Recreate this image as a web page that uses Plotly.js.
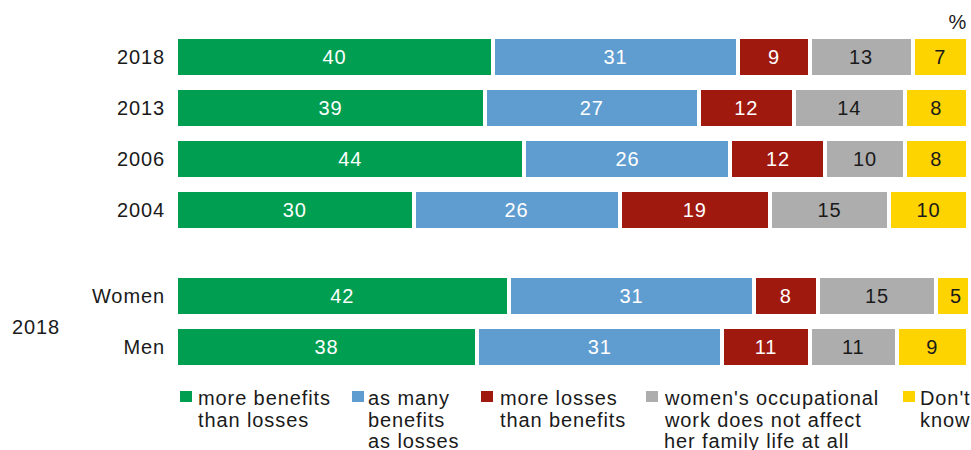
<!DOCTYPE html>
<html>
<head>
<meta charset="utf-8">
<script src="https://cdn.plot.ly/plotly-3.0.1.min.js"></script>
<style>
  html, body { margin: 0; padding: 0; background: #fff; }
  #chart { width: 971px; height: 450px; }
  #chart text { letter-spacing: 0.9px; }
</style>
</head>
<body>
<div id="chart"></div>
<script>
// ---- data ----
const yearRows = ['2018', '2013', '2006', '2004'];
const genderRows = ['Women', 'Men'];
const genderGroupLabel = '2018';

const seriesNames = [
  'more benefits<br>than losses',
  'as many<br>benefits<br>as losses',
  'more losses<br>than benefits',
  "women's occupational<br>work does not affect<br>her family life at all",
  "Don't<br>know"
];
// rows order: 2018, 2013, 2006, 2004, Women, Men
const moreBenefits = [40, 39, 44, 30, 42, 38];
const asMany       = [31, 27, 26, 26, 31, 31];
const moreLosses   = [9, 12, 12, 19, 8, 11];
const noEffect     = [13, 14, 10, 15, 15, 11];
const dontKnow     = [7, 8, 8, 10, 5, 9];

// ---- layout constants ----
const colors = ['#009E50', '#5F9DD0', '#A0190F', '#ADADAE', '#FDD300'];
const textColors = ['#ffffff', '#ffffff', '#ffffff', '#1a1a1a', '#1a1a1a'];
const FONT = '"Liberation Sans", Arial, Helvetica, sans-serif';
const FS = 20;
const ML = 176, MR = 3, MT = 26, MB = 76, W = 971, H = 450;
const PW = W - ML - MR, PH = H - MT - MB;
const groupGap = 1.68;

const rowLabels = yearRows.concat(genderRows);
const rowPos = yearRows.map((_, i) => i)
  .concat(genderRows.map((_, i) => yearRows.length - 1 + groupGap + i));

const seriesValues = [moreBenefits, asMany, moreLosses, noEffect, dontKnow];

const traces = seriesValues.map((vals, k) => ({
  type: 'bar',
  orientation: 'h',
  y: rowPos,
  x: vals,
  name: seriesNames[k],
  width: 0.78,
  marker: { color: colors[k], line: { color: '#ffffff', width: 4 } },
  text: vals.map(String),
  textposition: 'inside',
  insidetextanchor: 'middle',
  textangle: 0,
  constraintext: 'none',
  textfont: { family: FONT, size: FS, color: textColors[k] },
  hoverinfo: 'skip',
  showlegend: false
}));

const px2x = px => (px - ML) / PW;
const px2y = py => (MT + PH - py) / PH;

// manual legend
const legSquareX = [180, 352, 481, 646, 903];
const legTextX = [197, 367, 499, 663, 919];
const shapes = [];
const annotations = [];
seriesNames.forEach((name, k) => {
  shapes.push({
    type: 'rect', xref: 'paper', yref: 'paper',
    x0: px2x(legSquareX[k]), x1: px2x(legSquareX[k] + 12),
    y0: px2y(402), y1: px2y(391),
    fillcolor: colors[k], line: { width: 0 }
  });
  name.split('<br>').forEach((line, j) => {
    annotations.push({
      xref: 'paper', yref: 'paper',
      x: px2x(legTextX[k]), y: px2y(398 + j * 21.5),
      xanchor: 'left', yanchor: 'middle', align: 'left',
      text: line, showarrow: false, borderpad: 0,
      font: { family: FONT, size: FS, color: '#1a1a1a' }
    });
  });
});

annotations.push({
  xref: 'paper', yref: 'paper', x: px2x(958), y: px2y(22),
  xanchor: 'center', yanchor: 'middle', text: '%', showarrow: false,
  font: { family: FONT, size: FS, color: '#1a1a1a' }
});
annotations.push({
  xref: 'paper', yref: 'paper', x: px2x(10), y: px2y(327),
  xanchor: 'left', yanchor: 'middle', align: 'left', text: genderGroupLabel, showarrow: false,
  font: { family: FONT, size: FS, color: '#1a1a1a' }
});

const layout = {
  width: W, height: H,
  margin: { l: ML, r: MR, t: MT, b: MB, pad: 0 },
  barmode: 'stack',
  paper_bgcolor: '#ffffff',
  plot_bgcolor: '#ffffff',
  showlegend: false,
  xaxis: {
    range: [0, 100], showgrid: false, zeroline: false, showline: false,
    showticklabels: false, ticks: '', fixedrange: true
  },
  yaxis: {
    range: [6.2, -0.6], tickvals: rowPos, ticktext: rowLabels,
    showgrid: false, zeroline: false, showline: false, ticks: '',
    ticklabelstandoff: 10,
    tickfont: { family: FONT, size: FS, color: '#1a1a1a' }, fixedrange: true
  },
  shapes: shapes,
  annotations: annotations
};

Plotly.newPlot('chart', traces, layout, { staticPlot: true, displayModeBar: false });
</script>
</body>
</html>
